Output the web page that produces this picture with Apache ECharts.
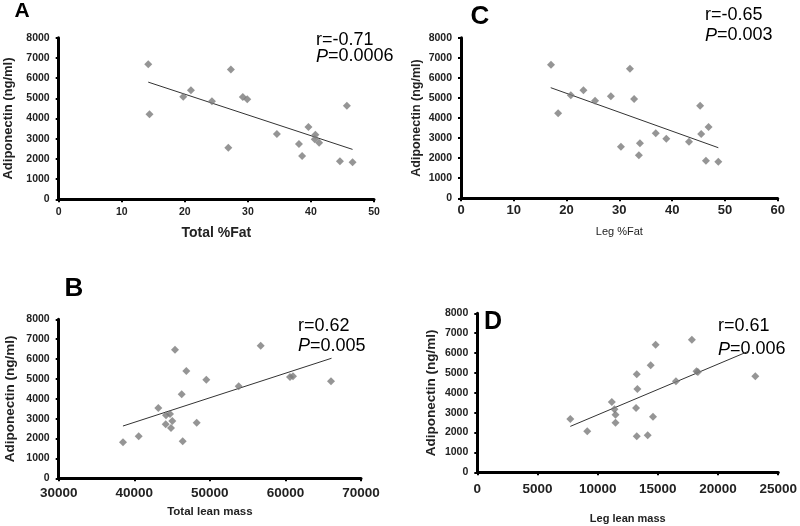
<!DOCTYPE html>
<html>
<head>
<meta charset="utf-8">
<script src="https://cdn.jsdelivr.net/npm/echarts@6/dist/echarts.min.js"></script>
<style>html,body{margin:0;padding:0;background:#fff}#c{width:800px;height:526px}</style>
</head>
<body>
<div id="c"></div>
<script>
// Panel A: Total %Fat vs Adiponectin
const aX = [14.2,14.4,19.75,20.97,24.3,26.9,27.3,29.2,29.9,34.6,38.1,38.6,39.6,40.7,40.6,41.3,44.6,45.7,46.6];
const aY = [6680,4210,5080,5400,4850,2550,6420,5060,4950,3230,2740,2140,3580,3200,2970,2800,1880,4630,1830];
const aTrendX = [14.2,46.6];
const aTrendY = [5800,2470];
// Panel C: Leg %Fat
const cX = [17.05,18.4,20.8,23.2,25.4,28.4,30.3,32.0,32.8,33.7,33.9,36.9,38.9,43.2,45.3,45.5,46.4,46.9,48.75];
const cY = [6655,4234,5131,5380,4862,5081,2570,6456,4946,2142,2740,3238,2969,2820,4613,3203,1873,3552,1823];
const cTrendX = [17,48.75];
const cTrendY = [5510,2520];
// Panel B: Total lean mass
const bX = [38508,40586,43180,44158,44200,44727,44860,45032,45389,46275,46408,46884,48260,49531,53818,56728,60606,61003,66031];
const bY = [1811,2113,3539,2717,3170,3237,2532,2885,6474,4226,1862,5400,2801,4964,4629,6675,5099,5132,4881];
const bTrendX = [38500,66100];
const bTrendY = [2630,6040];
// Panel D: Leg lean mass
const dX = [7726,9133,11175,11395,11479,11479,13245,13188,13300,13245,14155,14403,14597,14817,16500,17825,18212,18322,23095];
const dY = [2683,2063,3539,3170,2901,2499,4931,3237,4193,1811,1862,5384,2801,6423,4579,6675,5082,5048,4830];
const dTrendX = [7726,22570];
const dTrendY = [2310,6100];

const yTitle = 'Adiponectin (ng/ml)';
const panels = [
  {x:aX,y:aY,tx:aTrendX,ty:aTrendY,xmin:0,xmax:50,xint:10,xname:'Total %Fat',xnameBold:true,xnameSize:14,xnameGap:27,
   grid:{left:58.7,top:37.7,width:315.3,height:161.6},xfs:10.5,yfs:10.5,xmargin:7,ynameGap:44,ynameSize:13},
  {x:cX,y:cY,tx:cTrendX,ty:cTrendY,xmin:0,xmax:60,xint:10,xname:'Leg %Fat',xnameBold:false,xnameSize:11,xnameGap:28,
   grid:{left:461,top:37.7,width:316.7,height:160.6},xfs:13,yfs:10.5,xmargin:6,ynameGap:38,ynameSize:12.5},
  {x:bX,y:bY,tx:bTrendX,ty:bTrendY,xmin:30000,xmax:70000,xint:10000,xname:'Total lean mass',xnameBold:true,xnameSize:11.5,xnameGap:28,
   grid:{left:58.7,top:319.3,width:302.3,height:159},xfs:13.5,yfs:10.5,xmargin:8,ynameGap:41,ynameSize:13.5},
  {x:dX,y:dY,tx:dTrendX,ty:dTrendY,xmin:0,xmax:25000,xint:5000,xname:'Leg lean mass',xnameBold:true,xnameSize:11,xnameGap:41,
   grid:{left:477.3,top:313.3,width:302,height:159},xfs:13.5,yfs:10.5,xmargin:10,ynameGap:39,ynameSize:13.5}
];

const FONT = '"Liberation Sans", Arial, sans-serif';
const plain = v => String(v);
const grid = [], xAxis = [], yAxis = [], series = [];
panels.forEach((p, i) => {
  grid.push(Object.assign({containLabel:false}, p.grid));
  xAxis.push({
    type:'value', gridIndex:i, min:p.xmin, max:p.xmax, interval:p.xint,
    name:p.xname, nameLocation:'middle', nameGap:p.xnameGap,
    nameTextStyle:{fontFamily:FONT, fontWeight:p.xnameBold?'bold':'normal', fontSize:p.xnameSize, color:'#222'},
    axisLine:{show:true, onZero:false, lineStyle:{color:'#000', width:3}},
    axisTick:{show:true, length:3, lineStyle:{color:'#000', width:2}},
    axisLabel:{fontFamily:FONT, fontWeight:'bold', fontSize:p.xfs, color:'#222', margin:p.xmargin, showMinLabel:true, showMaxLabel:true, formatter:plain},
    splitLine:{show:false}
  });
  yAxis.push({
    type:'value', gridIndex:i, min:0, max:8000, interval:1000,
    name:yTitle, nameLocation:'middle', nameGap:p.ynameGap, nameRotate:90,
    nameTextStyle:{fontFamily:FONT, fontWeight:'bold', fontSize:p.ynameSize, color:'#222'},
    axisLine:{show:true, onZero:false, lineStyle:{color:'#000', width:3}},
    axisTick:{show:true, length:3, lineStyle:{color:'#000', width:2}},
    axisLabel:{fontFamily:FONT, fontWeight:'bold', fontSize:p.yfs, color:'#222', margin:9, formatter:plain},
    splitLine:{show:false}
  });
  series.push({
    type:'line', xAxisIndex:i, yAxisIndex:i, symbol:'none', silent:true,
    data:p.tx.map((v,k)=>[v,p.ty[k]]),
    lineStyle:{color:'#333', width:1}, z:2
  });
  series.push({
    type:'scatter', xAxisIndex:i, yAxisIndex:i, symbol:'diamond', symbolSize:[8,8],
    data:p.x.map((v,k)=>[v,p.y[k]]),
    itemStyle:{color:'#7a7a7a'}, z:3
  });
});

const letters = [
  {t:'A', x:22, y:11, s:21},
  {t:'C', x:480, y:17, s:26},
  {t:'B', x:74, y:289, s:26},
  {t:'D', x:493, y:322, s:25}
];
const ann = [
  {r:'r=-0.71', p:'0.0006', x:316, ry:40, py:56.5},
  {r:'r=-0.65', p:'0.003', x:705, ry:15, py:35.5},
  {r:'r=0.62', p:'0.005', x:298, ry:326, py:346},
  {r:'r=0.61', p:'0.006', x:718, ry:326.5, py:349.5}
];
const graphic = [];
letters.forEach(l => graphic.push({type:'text', x:l.x, y:l.y, style:{text:l.t, font:'bold '+l.s+'px '+FONT, fill:'#000', textAlign:'center', textVerticalAlign:'middle'}}));
ann.forEach(a => {
  graphic.push({type:'text', x:a.x, y:a.ry, style:{text:a.r, font:'18px '+FONT, fill:'#000', textAlign:'left', textVerticalAlign:'middle'}});
  graphic.push({type:'text', x:a.x, y:a.py, style:{text:'{i|P}=' + a.p, font:'18px '+FONT, fill:'#000', textAlign:'left', textVerticalAlign:'middle',
    rich:{i:{fontStyle:'italic', fontSize:18, fontFamily:FONT, fill:'#000'}}}});
});

const chart = echarts.init(document.getElementById('c'), null, {renderer:'canvas'});
chart.setOption({animation:false, backgroundColor:'#fff', grid, xAxis, yAxis, series, graphic});
</script>
</body>
</html>
